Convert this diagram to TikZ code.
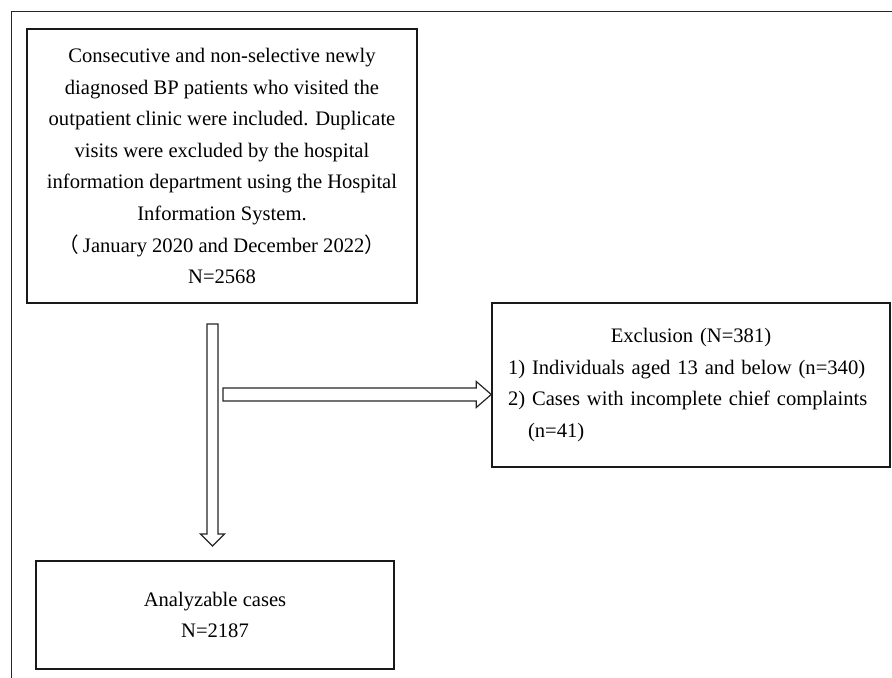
\documentclass[tikz,border=0pt]{standalone}
\usepackage{fontspec}
\setmainfont{Liberation Serif}
\newfontfamily\cjk{Noto Sans CJK SC}
\usetikzlibrary{calc}

\tikzstyle{every node}=[font={\fontsize{10.3pt}{15.8pt}\selectfont}]
\tikzstyle{box}=[draw=black!90, line width=0.75pt, inner sep=8pt]
\tikzstyle{frame}=[draw=black!85, line width=0.5pt]
\tikzstyle{hollow}=[draw=black!85, line width=0.6pt, line join=miter, fill=white]

\begin{document}
\begin{tikzpicture}[x=0.5pt, y=-0.5pt]
    \useasboundingbox (0,0) rectangle (892,678);
    \draw [frame] (892,12) -- (11,12) -- (11,678);

    \node [box, align=center, minimum width=195pt, minimum height=137pt] (source) at (222,166)
        {Consecutive and non-selective newly\\
         diagnosed BP patients who visited the\\
         outpatient clinic were included. Duplicate\\
         visits were excluded by the hospital\\
         information department using the Hospital\\
         Information System.\\
         {\cjk （}\,January 2020 and December 2022{\cjk ）}\\
         N=2568};
    \node [box, align=left, text width=183pt, minimum height=82pt] (exclusion) at (691,385)
        {\makebox[\linewidth]{Exclusion (N=381)}\\
         1) Individuals aged 13 and below (n=340)\\
         2) Cases with incomplete chief complaints\\
         \hspace*{10pt}(n=41)};
    \node [box, align=center, minimum width=179pt, minimum height=54pt] (analyzable) at (215,615)
        {Analyzable cases\\
         N=2187};

    \coordinate (vtop) at (212.5,324);
    \coordinate (vtip) at (212.5,546);
    \coordinate (hstart) at (223,394.5);
    \coordinate (htip) at (exclusion.west |- hstart);

    \draw [hollow] ($(vtop)+(-5.5,0)$) -- ($(vtip)+(-5.5,-12)$) -- ($(vtip)+(-12,-12)$)
        -- (vtip) -- ($(vtip)+(12,-12)$) -- ($(vtip)+(5.5,-12)$) -- ($(vtop)+(5.5,0)$) -- cycle;
    \draw [hollow] ($(hstart)+(0,-6.5)$) -- ($(htip)+(-15,-6.5)$) -- ($(htip)+(-15,-13)$)
        -- (htip) -- ($(htip)+(-15,13)$) -- ($(htip)+(-15,6.5)$) -- ($(hstart)+(0,6.5)$) -- cycle;
\end{tikzpicture}
\end{document}
